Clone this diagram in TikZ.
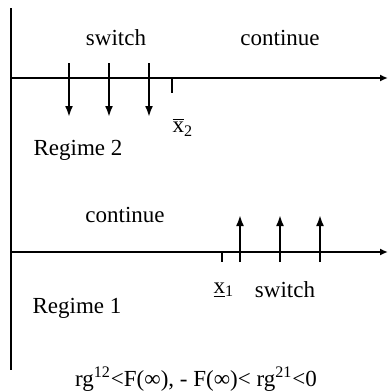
\documentclass[tikz,border=0pt]{standalone}
\usepackage{fontspec}
\setmainfont{Liberation Serif}
\usetikzlibrary{positioning,arrows.meta}
\tikzset{
  axarr/.style={-{Latex[length=4pt,width=3.5pt]},line width=0.9pt},
  swarr/.style={-{Latex[length=5.5pt,width=4pt]},line width=1.3pt},
  axtick/.style={line width=0.6pt},
  lbl/.style={font=\fontsize{11.5}{13}\selectfont,inner sep=0pt}
}

\begin{document}
\begin{tikzpicture}[x=0.5pt,y=-0.5pt]
\useasboundingbox (0,0) rectangle (389,392);
% axes
\coordinate (vtop) at (11,8);
\coordinate (vbot) at (11,370);
\coordinate (o2) at (11,78);
\coordinate (e2) at (388,78);
\coordinate (o1) at (11,252);
\coordinate (e1) at (388,252);
\draw[line width=0.9pt] (vtop) -- (vbot);
\draw[axarr] (o2) -- (e2);
\draw[axarr] (o1) -- (e1);

% regime 2
\foreach \i/\x in {1/69,2/109,3/149}{
  \coordinate (d\i a) at (\x,63);
  \coordinate (d\i b) at (\x,117);
  \draw[swarr] (d\i a) -- (d\i b);
}
\coordinate (t2a) at (172,78);
\coordinate (t2b) at (172,93);
\draw[axtick] (t2a) -- (t2b);
\node[lbl] (sw2) at (116,38) {switch};
\node[lbl] (co2) at (280,38) {continue};
\node[lbl] (xb2) at (183,127) {$\overline{\mbox{x}}$\textsubscript{2}};
\node[lbl] (reg2) at (78,150) {Regime 2};

% regime 1
\foreach \i/\x in {1/240,2/280,3/320}{
  \coordinate (u\i a) at (\x,262);
  \coordinate (u\i b) at (\x,215);
  \draw[swarr] (u\i a) -- (u\i b);
}
\coordinate (t1a) at (222,252);
\coordinate (t1b) at (222,262);
\draw[axtick] (t1a) -- (t1b);
\node[lbl] (co1) at (125,215) {continue};
\node[lbl] (sw1) at (285,290) {switch};
\node[lbl] (xu1) at (224,290) {\underline{x}\textsubscript{1}};
\node[lbl] (reg1) at (77,308) {Regime 1};

\node[lbl] (cond) at (196,379) {rg\textsuperscript{12}<F(∞), - F(∞)< rg\textsuperscript{21}<0};
\end{tikzpicture}
\end{document}
